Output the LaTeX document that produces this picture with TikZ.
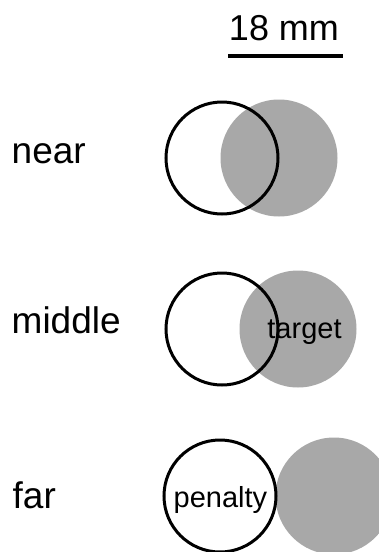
\documentclass[tikz,border=0pt]{standalone}
\usepackage{fontspec}
\setmainfont{Liberation Sans}
\definecolor{targetgray}{gray}{0.66}
\tikzset{
  rowlabel/.style={anchor=base west,inner sep=0pt,font=\fontsize{37pt}{40pt}\selectfont},
  innerlabel/.style={anchor=base,inner sep=0pt,font=\fontsize{29pt}{32pt}\selectfont},
  penaltydisc/.style={circle,draw=black,line width=3pt,minimum size=112pt,inner sep=0pt},
  targetdisc/.style={circle,fill=targetgray,minimum size=117pt,inner sep=0pt},
}
\begin{document}
\begin{tikzpicture}[x=1pt,y=-1pt]
\useasboundingbox (0, 0) rectangle (379, 552);
\clip (0, 0) rectangle (379, 552);

% scale bar
\node (scaletext) at (284, 40) [rowlabel,anchor=base,font=\fontsize{36pt}{40pt}\selectfont] {18 mm};
\coordinate (barleft) at (228, 56);
\coordinate (barright) at (343, 56);
\draw [line width=4pt] (barleft) -- (barright);

% near
\node (neartext) at (11.5, 163) [rowlabel] {near};
\node (neartarget) at (279, 158) [targetdisc] {};
\node (nearpenalty) at (222, 158) [penaltydisc] {};

% middle
\node (midtext) at (11.5, 333) [rowlabel] {middle};
\node (midtarget) at (298, 329) [targetdisc] {};
\node (midpenalty) at (222, 329) [penaltydisc] {};
\node (targettext) at (304.5, 338) [innerlabel] {target};

% far
\node (fartext) at (12.5, 508) [rowlabel] {far};
\node (fartarget) at (334, 496) [targetdisc] {};
\node (farpenalty) at (220, 496) [penaltydisc] {};
\node (penaltytext) at (220.5, 507) [innerlabel] {penalty};
\end{tikzpicture}
\end{document}
